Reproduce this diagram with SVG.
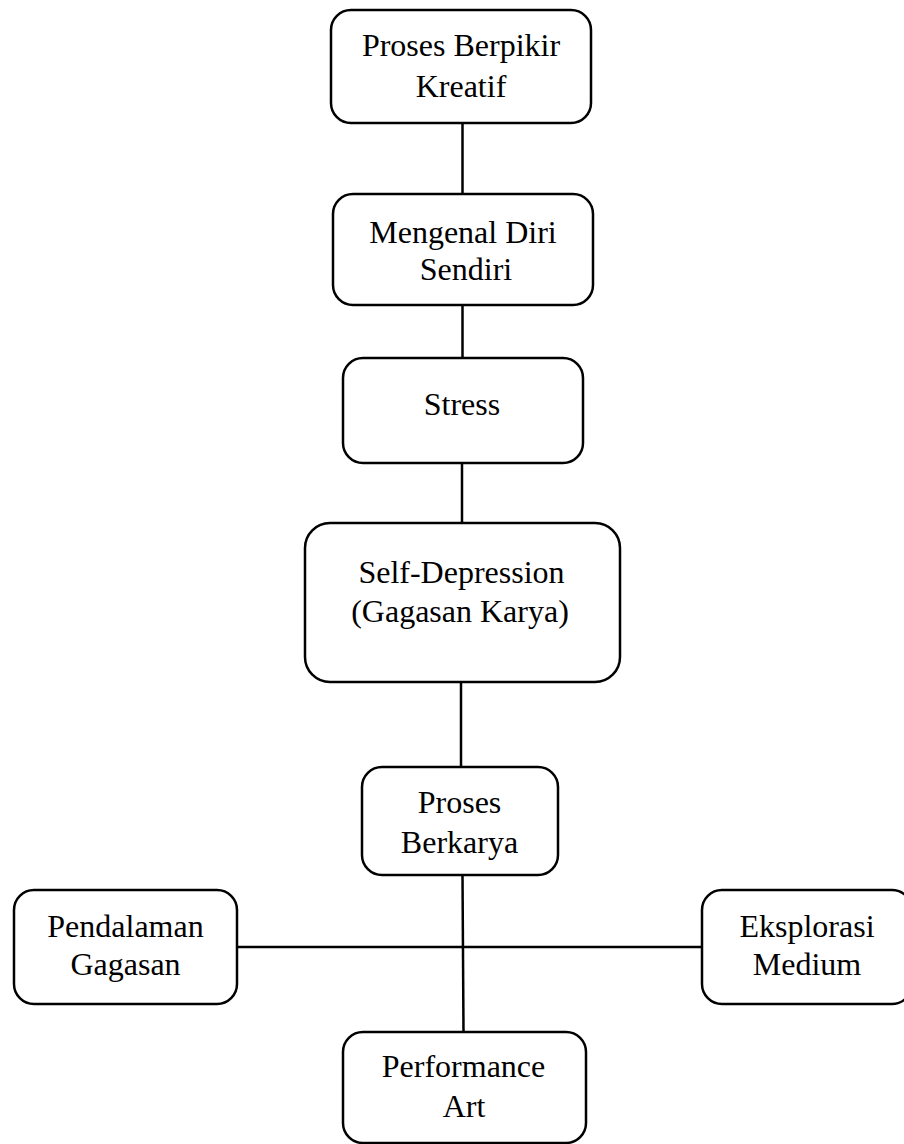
<svg xmlns="http://www.w3.org/2000/svg" width="904" height="1144" viewBox="0 0 904 1144">
<style>
.box{fill:#fff;stroke:#000;stroke-width:2.5}
.lbl{font-family:"Liberation Serif","Times New Roman",serif;font-size:32px;fill:#000;text-anchor:middle}
.con{stroke:#000;stroke-width:2.5;fill:none}
</style>
<rect width="904" height="1144" fill="#fff"/>
<g id="connectors">
<line class="con" x1="462.5" y1="123" x2="462.5" y2="194"/>
<line class="con" x1="462.5" y1="305" x2="462.5" y2="358"/>
<line class="con" x1="462" y1="463" x2="462" y2="523"/>
<line class="con" x1="461" y1="682" x2="461" y2="767"/>
<line class="con" x1="462.5" y1="875" x2="463.5" y2="1032"/>
<line class="con" x1="237" y1="947" x2="702" y2="947"/>
</g>
<g id="n1"><rect class="box" x="331" y="10" width="260" height="113" rx="20"/>
<text class="lbl" x="461" y="56">Proses Berpikir</text><text class="lbl" x="461" y="97">Kreatif</text></g>
<g id="n2"><rect class="box" x="333" y="194" width="260" height="111" rx="20"/>
<text class="lbl" x="463" y="243">Mengenal Diri</text><text class="lbl" x="466" y="280">Sendiri</text></g>
<g id="n3"><rect class="box" x="343" y="358" width="240" height="105" rx="20"/>
<text class="lbl" x="462" y="415">Stress</text></g>
<g id="n4"><rect class="box" x="305" y="523" width="315" height="159" rx="25"/>
<text class="lbl" x="461.5" y="583">Self-Depression</text><text class="lbl" x="460" y="622">(Gagasan Karya)</text></g>
<g id="n5"><rect class="box" x="362" y="767" width="196" height="108" rx="20"/>
<text class="lbl" x="459.5" y="813">Proses</text><text class="lbl" x="459.5" y="853">Berkarya</text></g>
<g id="n6"><rect class="box" x="14" y="890" width="223" height="114" rx="20"/>
<text class="lbl" x="125.5" y="937">Pendalaman</text><text class="lbl" x="125.5" y="975">Gagasan</text></g>
<g id="n7"><rect class="box" x="702" y="890" width="210" height="114" rx="20"/>
<text class="lbl" x="807" y="937">Eksplorasi</text><text class="lbl" x="807" y="975">Medium</text></g>
<g id="n8"><rect class="box" x="343" y="1032" width="243" height="111" rx="20"/>
<text class="lbl" x="463.5" y="1077">Performance</text><text class="lbl" x="464" y="1117">Art</text></g>
</svg>
